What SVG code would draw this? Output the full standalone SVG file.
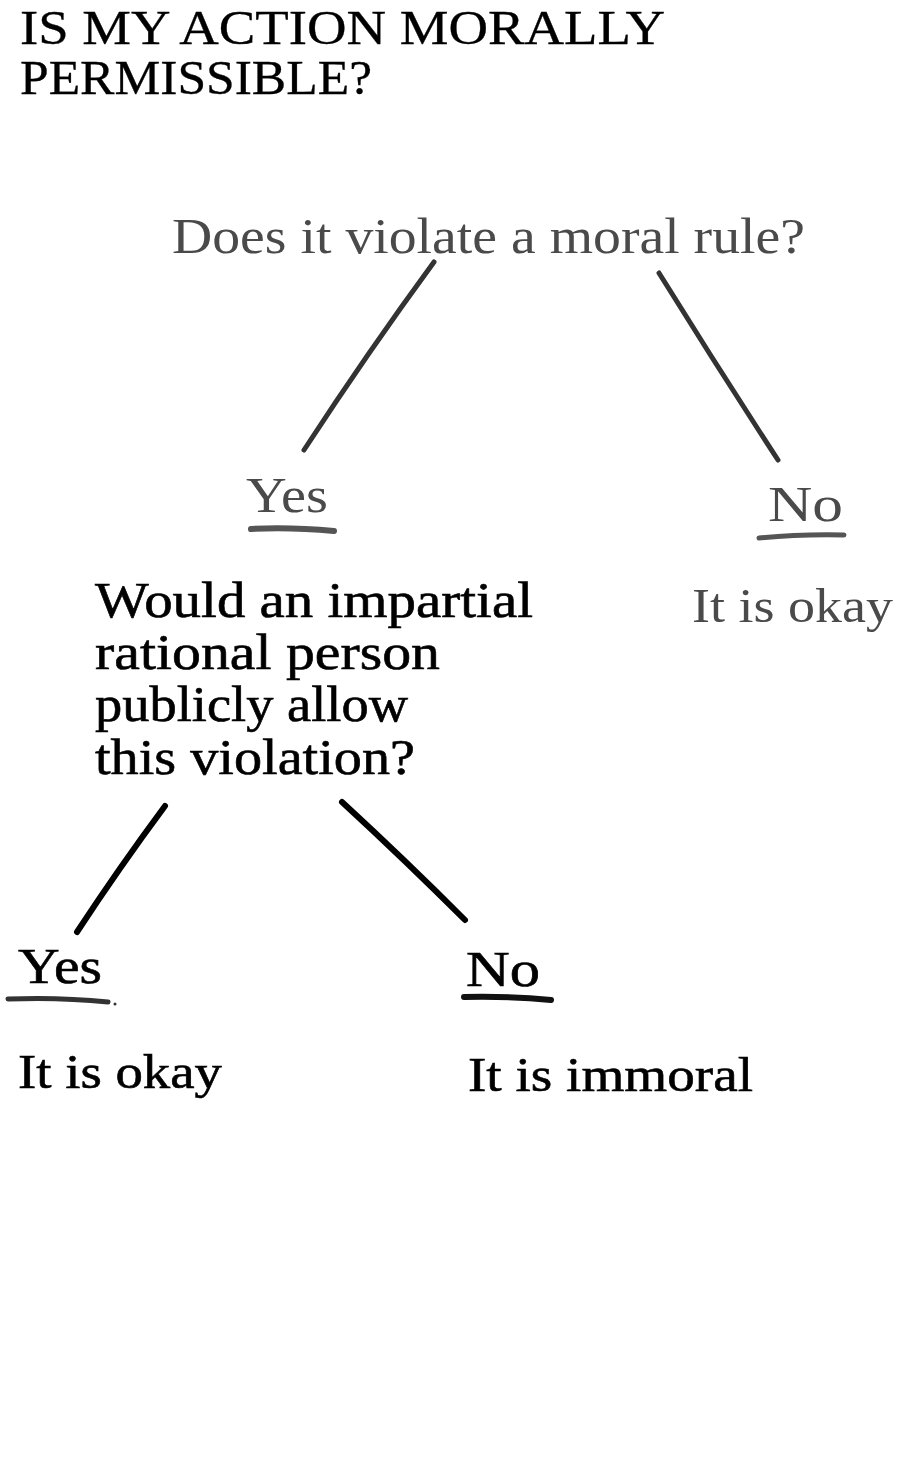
<svg xmlns="http://www.w3.org/2000/svg" width="898" height="1480" viewBox="0 0 898 1480">
<style>
text{font-family:"Liberation Serif","DejaVu Serif",serif;}
.g{fill:#4a4a4a;}
.k{fill:#000;stroke:#000;stroke-width:0.6;}
.t{font-size:48px;stroke-width:0.3;}
.m{font-size:50px;}
.s{font-size:48px;}
.ln{fill:none;stroke-linecap:round;}
.lg{stroke:#333;stroke-width:5;}
.lk{stroke:#000;stroke-width:6;}
.ug{stroke:#555;stroke-width:6;}
.uk{stroke:#111;stroke-width:6;}
</style>
<rect width="898" height="1480" fill="#fff"/>
<g id="title">
<text class="k t" x="20" y="44" textLength="645" lengthAdjust="spacingAndGlyphs">IS MY ACTION MORALLY</text>
<text class="k t" x="20" y="94" textLength="352" lengthAdjust="spacingAndGlyphs">PERMISSIBLE?</text>
</g>
<g id="q1">
<text class="g m" x="172" y="253" textLength="633" lengthAdjust="spacingAndGlyphs">Does it violate a moral rule?</text>
</g>
<g id="yes1">
<text class="g m" x="246" y="512" textLength="82" lengthAdjust="spacingAndGlyphs">Yes</text>
<path class="ln ug" d="M251 529 Q290 527 334 531"/>
</g>
<g id="no1">
<text class="g m" x="768" y="521" textLength="75" lengthAdjust="spacingAndGlyphs">No</text>
<path class="ln ug" d="M759 538 Q800 534 844 535" style="stroke-width:5"/>
</g>
<g id="okay1">
<text class="g s" x="692" y="622" textLength="201" lengthAdjust="spacingAndGlyphs">It is okay</text>
</g>
<g id="q2">
<text class="k m" x="95" y="617" textLength="438" lengthAdjust="spacingAndGlyphs">Would an impartial</text>
<text class="k m" x="95" y="669" textLength="345" lengthAdjust="spacingAndGlyphs">rational person</text>
<text class="k m" x="95" y="721" textLength="313" lengthAdjust="spacingAndGlyphs">publicly allow</text>
<text class="k m" x="95" y="774" textLength="320" lengthAdjust="spacingAndGlyphs">this violation?</text>
</g>
<g id="yes2">
<text class="k m" x="18" y="983" textLength="84" lengthAdjust="spacingAndGlyphs">Yes</text>
<path class="ln uk" d="M8 999 Q60 997 108 1002" style="stroke:#333;stroke-width:5"/>
<circle cx="115" cy="1004" r="1.5" fill="#333"/>
</g>
<g id="no2">
<text class="k m" x="466" y="986" textLength="74" lengthAdjust="spacingAndGlyphs">No</text>
<path class="ln uk" d="M464 997 Q510 996 551 1000"/>
</g>
<g id="okay2">
<text class="k s" x="18" y="1088" textLength="204" lengthAdjust="spacingAndGlyphs">It is okay</text>
</g>
<g id="immoral">
<text class="k s" x="468" y="1091" textLength="285" lengthAdjust="spacingAndGlyphs">It is immoral</text>
</g>
<g id="connectors">
<path class="ln lg" d="M434 262 Q368 352 304 450"/>
<path class="ln lg" d="M659 273 Q718 368 778 460"/>
<path class="ln lk" d="M165 806 Q119 868 77 932"/>
<path class="ln lk" d="M342 802 Q405 860 465 920"/>
</g>
</svg>
